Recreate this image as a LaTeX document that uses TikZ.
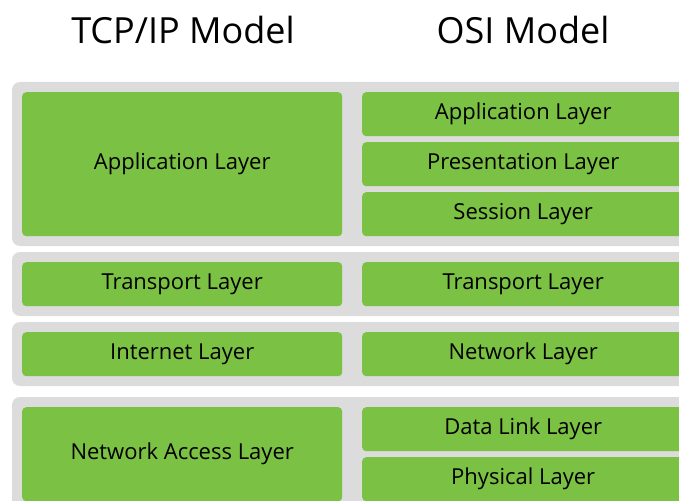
\documentclass[tikz,border=0pt]{standalone}
\usepackage{fontspec}
\setmainfont{Open Sans}
\definecolor{layergreen}{RGB}{123,193,67}
\definecolor{bandgray}{RGB}{220,220,220}
\begin{document}
\begin{tikzpicture}[x=1pt,y=-1pt,
  band/.style={fill=bandgray,rounded corners=8pt},
  layer/.style={fill=layergreen,rounded corners=4pt,inner sep=0pt,
    anchor=north west,text=black,font=\fontsize{22}{26}\selectfont},
  lefttile/.style={layer,minimum width=320pt},
  righttile/.style={layer,minimum width=322pt},
  heading/.style={font=\fontsize{36}{43}\selectfont,text=black}]
\useasboundingbox (0,0) rectangle (679,500);
\clip (0,0) rectangle (679,500);

% grey bands behind each TCP/IP layer
\path[band] (12,82) rectangle (700,246);
\path[band] (12,252) rectangle (700,316);
\path[band] (12,322) rectangle (700,386);
\path[band] (12,397) rectangle (700,520);

% column headings
\node[heading] (tcptitle) at (183,30) {TCP/IP Model};
\node[heading] (osititle) at (523,30) {OSI Model};

% TCP/IP layers
\node[lefttile,minimum height=144pt] (tapp) at (22,92) {Application Layer};
\node[lefttile,minimum height=44pt] (ttrans) at (22,262) {Transport Layer};
\node[lefttile,minimum height=44pt] (tinet) at (22,332) {Internet Layer};
\node[lefttile,minimum height=94pt] (tnet) at (22,407) {Network Access Layer};

% OSI layers
\node[righttile,minimum height=44pt] (oapp) at (362,92) {Application Layer};
\node[righttile,minimum height=44pt] (opres) at (362,142) {Presentation Layer};
\node[righttile,minimum height=44pt] (osess) at (362,192) {Session Layer};
\node[righttile,minimum height=44pt] (otrans) at (362,262) {Transport Layer};
\node[righttile,minimum height=44pt] (onet) at (362,332) {Network Layer};
\node[righttile,minimum height=44pt] (olink) at (362,407) {Data Link Layer};
\node[righttile,minimum height=44pt] (ophys) at (362,457) {Physical Layer};
\end{tikzpicture}
\end{document}
